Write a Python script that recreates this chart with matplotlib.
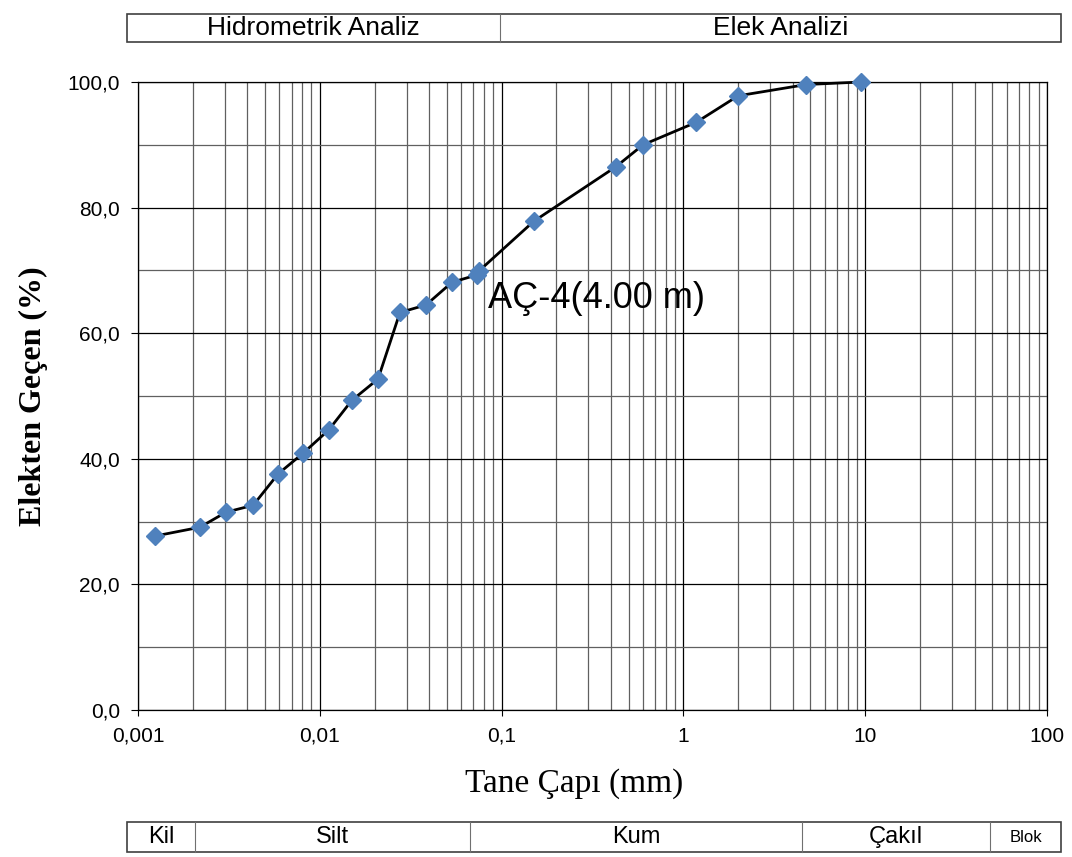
import numpy as np
import matplotlib.pyplot as plt
from matplotlib.ticker import FixedLocator, NullFormatter, LogLocator
from matplotlib.patches import Rectangle

# Granülometri verisi: tane çapı (mm) ve elekten geçen yüzde
tane_capi = [0.00124, 0.00219, 0.00305, 0.0043, 0.0059, 0.0081, 0.0112,
             0.0150, 0.0209, 0.0276, 0.0384, 0.0533, 0.0735, 0.075,
             0.150, 0.425, 0.600, 1.18, 2.00, 4.75, 9.50]
gecen = [27.7, 29.1, 31.5, 32.6, 37.6, 40.9, 44.6,
         49.3, 52.7, 63.3, 64.5, 68.1, 69.3, 69.9,
         77.8, 86.5, 90.0, 93.6, 97.8, 99.6, 100.0]

x_etiketleri = ['0,001', '0,01', '0,1', '1', '10', '100']
y_etiketleri = ['0,0', '20,0', '40,0', '60,0', '80,0', '100,0']

analiz_basliklari = ['Hidrometrik Analiz', 'Elek Analizi']
zemin_siniflari = ['Kil', 'Silt', 'Kum', 'Çakıl', 'Blok']

plt.rcParams['font.family'] = ['Liberation Sans', 'DejaVu Sans']

W, H = 1072, 857
fig = plt.figure(figsize=(W / 100, H / 100), dpi=100)
ax = fig.add_axes([138 / W, 1 - 710 / H, (1047 - 138) / W, (710 - 82) / H])

ax.plot(tane_capi, gecen, color='black', lw=2, zorder=3, clip_on=False,
        marker='D', ms=9, mfc='#4F81BD', mec='#4F81BD')

ax.set_xscale('log')
ax.set_xlim(0.001, 100)
ax.set_ylim(0, 100)

ax.xaxis.set_major_locator(FixedLocator([0.001, 0.01, 0.1, 1, 10, 100]))
ax.set_xticklabels(x_etiketleri)
ax.xaxis.set_minor_locator(LogLocator(base=10, subs=np.arange(2, 10), numticks=20))
ax.xaxis.set_minor_formatter(NullFormatter())
ax.set_yticks([0, 20, 40, 60, 80, 100])
ax.set_yticklabels(y_etiketleri)
ax.set_yticks(np.arange(10, 100, 20), minor=True)

ax.tick_params(axis='both', which='major', direction='out', width=0.8, labelsize=15)
ax.tick_params(axis='y', which='major', length=5, pad=8)
ax.tick_params(axis='x', which='major', length=4, pad=8)
ax.tick_params(which='minor', length=0)

ax.grid(which='major', color='black', lw=0.9)
ax.grid(which='minor', color='#606060', lw=0.9)
ax.set_axisbelow(True)
for s in ax.spines.values():
    s.set_color('black')
    s.set_linewidth(0.9)

ax.set_ylabel('Elekten Geçen (%)', family=['Liberation Serif', 'DejaVu Serif'],
              fontweight='bold', fontsize=23, labelpad=14)
ax.set_xlabel('Tane Çapı (mm)', family=['Liberation Serif', 'DejaVu Serif'],
              fontsize=24, labelpad=16)
ax.xaxis.label.set_x(0.48)

ax.text(0.084, 65.5, 'AÇ-4(4.00 m)', fontsize=26, va='center', ha='left', zorder=4)


def tablo(sinirlar, y0, y1, metinler, boyutlar):
    # Şeklin üstüne/altına çizilen başlık kutuları
    top = 1 - y0 / H
    bot = 1 - y1 / H
    fig.add_artist(Rectangle((sinirlar[0] / W, bot), (sinirlar[-1] - sinirlar[0]) / W,
                             top - bot, transform=fig.transFigure, fill=False,
                             ec='#404040', lw=1.2))
    for xs in sinirlar[1:-1]:
        fig.add_artist(plt.Line2D([xs / W, xs / W], [bot, top],
                                  transform=fig.transFigure, color='#707070', lw=0.8))
    for i, m in enumerate(metinler):
        xc = (sinirlar[i] + sinirlar[i + 1]) / 2 / W
        fig.text(xc, (top + bot) / 2, m, ha='center', va='center', fontsize=boyutlar[i])


tablo([127, 500, 1061], 14, 42, analiz_basliklari, [19, 19])
tablo([127, 195, 470, 802, 990, 1061], 822, 852, zemin_siniflari, [17, 17, 17, 17, 12])

fig.savefig('out.png', dpi=100)
